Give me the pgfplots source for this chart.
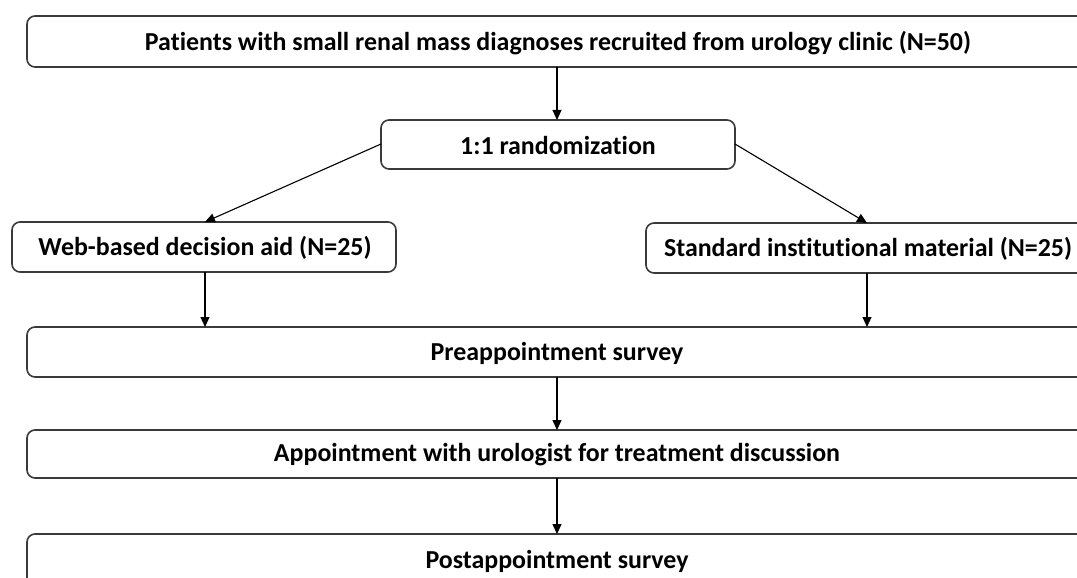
\documentclass[border=0pt]{standalone}
\usepackage{pgfplots}
\pgfplotsset{compat=1.18}
\usepackage{fontspec}
\setmainfont{Carlito}[Ligatures={NoCommon,NoRare}]
\usetikzlibrary{arrows.meta}
\definecolor{edge}{HTML}{3A3A3A}
\begin{document}
\begin{tikzpicture}
\begin{axis}[
  width=1077bp, height=578bp, scale only axis,
  xmin=0, xmax=1077, ymin=0, ymax=578, y dir=reverse,
  axis lines=none, clip=true,
]
\tikzset{bx/.style={draw=edge, line width=1.6bp, rounded corners=8bp, fill=white},
         ar/.style={draw=black, line width=1.1bp, -{Triangle[length=10bp,width=9bp]}},
         tx/.style={font=\fontsize{26}{30}\selectfont\bfseries, text=black, inner sep=0pt}}
% boxes
\draw[bx] (27,16) rectangle (1110,67);
\draw[bx] (381,120) rectangle (735,169);
\draw[bx] (12,222) rectangle (396,272);
\draw[bx] (646,223) rectangle (1110,273);
\draw[bx] (27,327) rectangle (1110,377);
\draw[bx] (27,430) rectangle (1110,478);
\draw[bx] (27,534) rectangle (1110,600);
% arrows
\draw[ar] (557,67) -- (557,120);
\draw[ar] (381,144) -- (205,222);
\draw[ar] (735,144) -- (867,223);
\draw[ar] (205,272) -- (205,327);
\draw[ar] (867,273) -- (867,327);
\draw[ar] (557,377) -- (557,430);
\draw[ar] (557,478) -- (557,534);
% texts
\node[tx] at (558,43) {Patients with small renal mass diagnoses recruited from urology clinic (N=50)};
\node[tx] at (558,146) {1:1 randomization};
\node[tx] at (205,248) {Web-based decision aid (N=25)};
\node[tx] at (868,249) {Standard institutional material (N=25)};
\node[tx] at (557,353) {Preappointment survey};
\node[tx] at (557,455) {Appointment with urologist for treatment discussion};
\node[tx] at (557,561) {Postappointment survey};
\end{axis}
\pgfresetboundingbox
\useasboundingbox (0,0) rectangle (1077bp,578bp);
\end{tikzpicture}
\end{document}
